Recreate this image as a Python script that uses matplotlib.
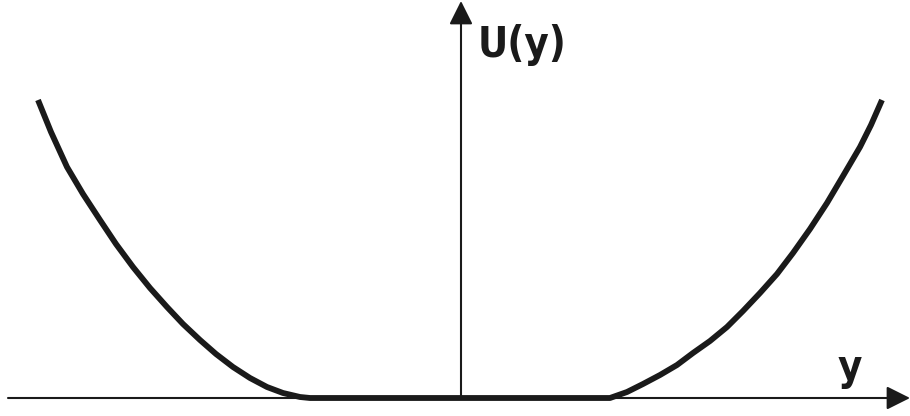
import matplotlib
matplotlib.use("Agg")
import matplotlib.pyplot as plt

# Curve samples: coordinate y and potential U(y)
left_y = [-4.23, -4.10, -3.94, -3.78, -3.61, -3.45, -3.28, -3.11, -2.94, -2.78, -2.61,
          -2.45, -2.28, -2.11, -1.94, -1.78, -1.61, -1.51]
left_u = [2.98, 2.66, 2.31, 2.04, 1.78, 1.54, 1.31, 1.10, 0.91, 0.74, 0.58,
          0.44, 0.31, 0.20, 0.11, 0.05, 0.01, 0.0]
flat_y = [-1.51, 1.49]
flat_u = [0.0, 0.0]
right_y = [1.49, 1.66, 1.82, 1.99, 2.16, 2.32, 2.49, 2.66, 2.82, 2.99, 3.16, 3.32,
           3.49, 3.66, 3.82, 3.99, 4.10, 4.21]
right_u = [0.0, 0.06, 0.14, 0.23, 0.33, 0.45, 0.57, 0.71, 0.87, 1.05, 1.24, 1.45,
           1.69, 1.95, 2.22, 2.51, 2.73, 2.98]

x_label = "y"
y_label = "U(y)"

fig = plt.figure(figsize=(9.1, 4.16), dpi=100)
ax = fig.add_axes([0, 0, 1, 1])
ax.set_xlim(-4.61, 4.49)
ax.set_ylim(-0.18, 3.98)
ax.axis("off")

arrow_kw = dict(arrowstyle="-|>,head_length=1.0,head_width=0.5", mutation_scale=14.4,
                color="#1a1a1a", lw=1.5, shrinkA=0, shrinkB=0)
ax.annotate("", xy=(4.49, 0.0), xytext=(-4.53, 0.0), arrowprops=arrow_kw)
ax.annotate("", xy=(0.0, 3.97), xytext=(0.0, 0.0), arrowprops=arrow_kw)

curve_y = left_y + flat_y[1:-1] + right_y
curve_u = left_u + flat_u[1:-1] + right_u
ax.plot(curve_y, curve_u, color="#1a1a1a", lw=4.2, solid_capstyle="butt",
        solid_joinstyle="round")

font = dict(family="DejaVu Sans", stretch="condensed", weight="bold", size=30,
            color="#1a1a1a")
ax.text(0.17, 3.53, y_label, ha="left", va="center", **font)
ax.text(3.89, 0.30, x_label, ha="center", va="center", **font)

fig.savefig("out.png", dpi=100)
